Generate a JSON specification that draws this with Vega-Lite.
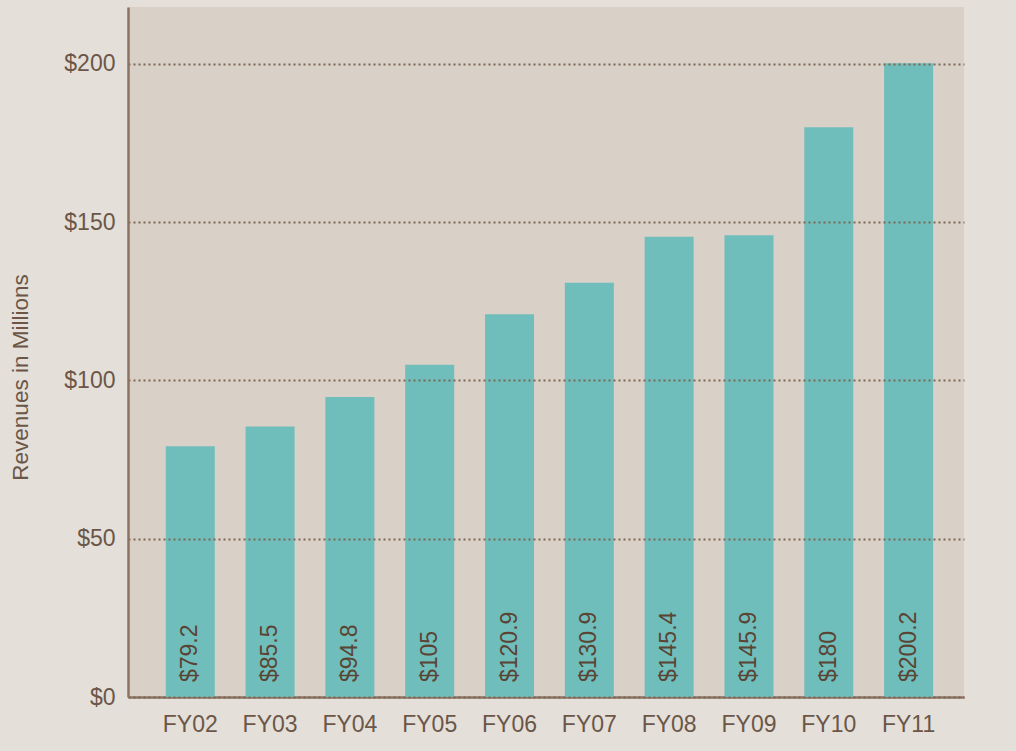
{
  "$schema": "https://vega.github.io/schema/vega-lite/v6.json",
  "width": 836,
  "height": 690,
  "autosize": "none",
  "padding": {"left": 128, "top": 7, "right": 52, "bottom": 54},
  "background": "#e4dfd9",
  "config": {
    "view": {"fill": "#d9d0c7", "stroke": null},
    "font": "Liberation Sans"
  },
  "data": {
    "values": [
      {"year": "FY02", "revenue": 79.2},
      {"year": "FY03", "revenue": 85.5},
      {"year": "FY04", "revenue": 94.8},
      {"year": "FY05", "revenue": 105},
      {"year": "FY06", "revenue": 120.9},
      {"year": "FY07", "revenue": 130.9},
      {"year": "FY08", "revenue": 145.4},
      {"year": "FY09", "revenue": 145.9},
      {"year": "FY10", "revenue": 180},
      {"year": "FY11", "revenue": 200.2}
    ]
  },
  "encoding": {
    "x": {
      "field": "year",
      "type": "nominal",
      "sort": null,
      "scale": {"paddingInner": 0.386, "paddingOuter": 0.43, "align": 0.55},
      "axis": {
        "title": null,
        "labelAngle": 0,
        "labelFontSize": 23,
        "labelColor": "#6b5647",
        "labelPadding": 16,
        "ticks": false,
        "domainColor": "#8c7462",
        "domainWidth": 2.5
      }
    },
    "y": {
      "field": "revenue",
      "type": "quantitative",
      "scale": {"domain": [0, 218], "nice": false},
      "axis": {
        "title": "Revenues in Millions",
        "titleFontSize": 22.5,
        "titleFontWeight": "normal",
        "titleColor": "#6b5647",
        "titleY": 370,
        "titlePadding": 31,
        "values": [0, 50, 100, 150, 200],
        "format": "$d",
        "labelFontSize": 23,
        "labelColor": "#6b5647",
        "labelPadding": 13,
        "ticks": false,
        "domainColor": "#8c7462",
        "domainWidth": 2.5,
        "grid": true,
        "gridColor": "#7d6655",
        "gridWidth": 2,
        "gridDash": [2, 3],
        "zindex": 1
      }
    }
  },
  "layer": [
    {"mark": {"type": "bar", "color": "#70bebb"}},
    {
      "mark": {
        "type": "text",
        "angle": 270,
        "align": "left",
        "baseline": "middle",
        "dx": 15,
        "fontSize": 23,
        "color": "#5a4535"
      },
      "encoding": {
        "y": {"datum": 0},
        "text": {"field": "revenue", "type": "quantitative", "format": "$~g"}
      }
    }
  ]
}
